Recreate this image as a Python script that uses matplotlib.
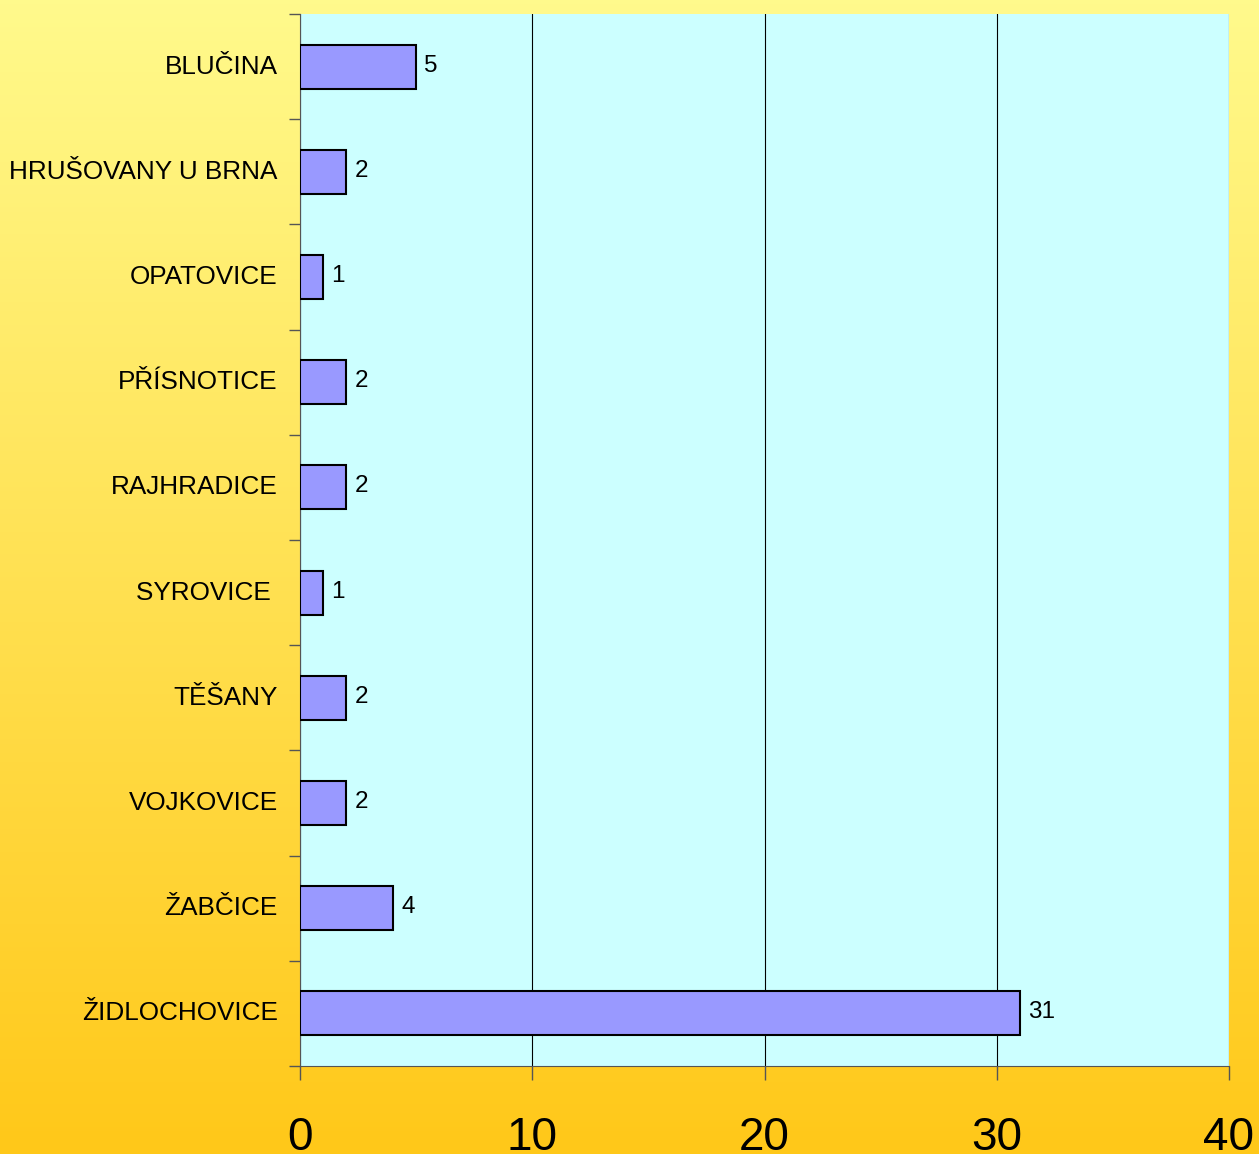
import matplotlib.pyplot as plt
import numpy as np

# data
obce = ['BLUČINA', 'HRUŠOVANY U BRNA', 'OPATOVICE', 'PŘÍSNOTICE', 'RAJHRADICE',
        'SYROVICE ', 'TĚŠANY', 'VOJKOVICE', 'ŽABČICE', 'ŽIDLOCHOVICE']
pocty = [5, 2, 1, 2, 2, 1, 2, 2, 4, 31]
x_ticks = [0, 10, 20, 30, 40]

plt.rcParams['font.family'] = ['Liberation Sans', 'DejaVu Sans']

fig = plt.figure(figsize=(12.59, 11.54), dpi=100)

# background gradient
bg = fig.add_axes([0, 0, 1, 1], zorder=-1)
top = np.array([255, 250, 140]) / 255
bottom = np.array([255, 200, 25]) / 255
t = np.linspace(0, 1, 256)[:, None]
grad = top * (1 - t) + bottom * t
bg.imshow(grad[:, None, :], aspect='auto', extent=[0, 1, 0, 1])
bg.axis('off')

ax = fig.add_axes([300 / 1259, 88 / 1154, 929 / 1259, 1052 / 1154])
ax.set_facecolor('#CCFFFF')

y = np.arange(len(obce))
ax.barh(y, pocty, height=0.42, color='#9999FF', edgecolor='black', linewidth=1.5, zorder=3)
for yi, v in zip(y, pocty):
    ax.text(v + 0.35, yi - 0.01, str(v), va='center', ha='left', fontsize=17.5, color='black')

ax.set_ylim(len(obce) - 0.5, -0.5)
ax.set_xlim(0, 40)
ax.set_xticks(x_ticks)
ax.set_xticklabels([str(v) for v in x_ticks], fontsize=33)
ax.tick_params(axis='x', length=10, width=1, colors='#555555', labelcolor='black', pad=26)

ax.set_yticks(y)
ax.set_yticklabels(obce, fontsize=18.8, va='center')
ax.set_yticks(np.arange(-0.5, len(obce), 1), minor=True)
ax.tick_params(axis='y', which='major', length=0, pad=16)
ax.tick_params(axis='y', which='minor', length=8, width=1, color='#555555')

ax.grid(axis='x', color='black', linewidth=0.8, zorder=1)
for s in ['top', 'right']:
    ax.spines[s].set_visible(False)
ax.spines['left'].set_color('#555555')
ax.spines['bottom'].set_color('#555555')

fig.savefig('out.png', dpi=100)
